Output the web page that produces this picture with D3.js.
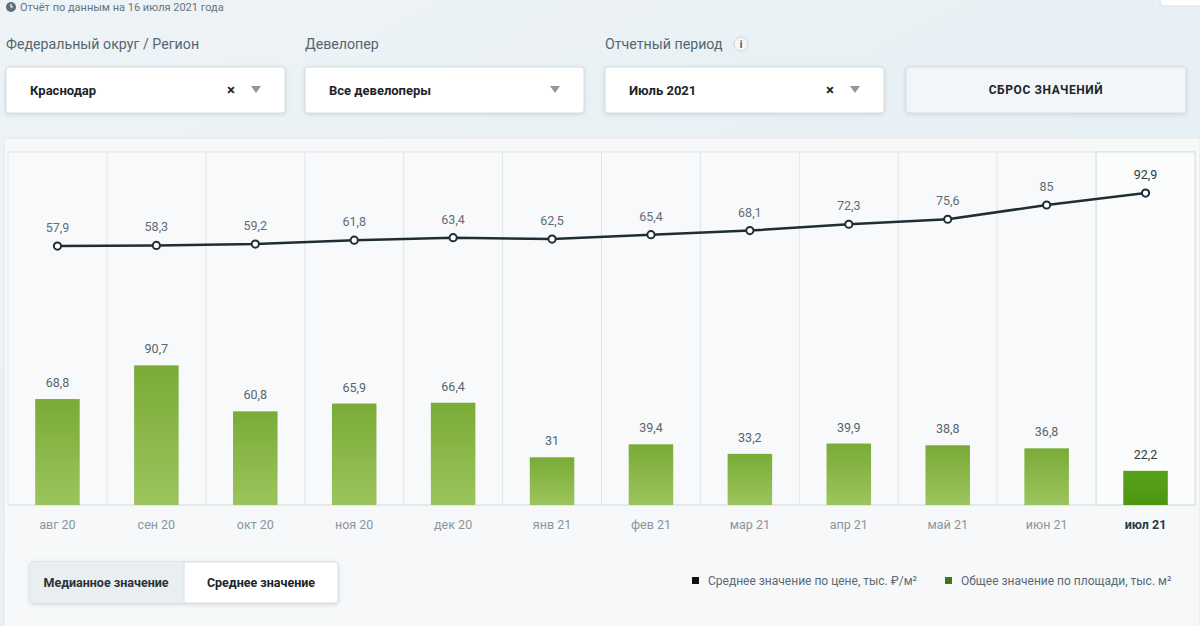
<!DOCTYPE html>
<html><head><meta charset="utf-8">
<script src="https://cdn.jsdelivr.net/npm/d3@7"></script>
<style>
html,body{margin:0;padding:0;width:1200px;height:626px;overflow:hidden;background:#eaf2f6;}
svg{display:block;font-family:Roboto,"Noto Sans",sans-serif;}
</style></head>
<body>
<svg id="c" width="1200" height="626"></svg>
<script>
const categories = ["авг 20","сен 20","окт 20","ноя 20","дек 20","янв 21","фев 21","мар 21","апр 21","май 21","июн 21","июл 21"];
const priceValues = [57.9,58.3,59.2,61.8,63.4,62.5,65.4,68.1,72.3,75.6,85,92.9];
const areaValues = [68.8,90.7,60.8,65.9,66.4,31,39.4,33.2,39.9,38.8,36.8,22.2];
const legendLabels = ["Среднее значение по цене, тыс. ₽/м²","Общее значение по площади, тыс. м²"];

const svg = d3.select("#c");
const defs = svg.append("defs");
const bg = defs.append("linearGradient").attr("id","pagebg").attr("x1",0).attr("y1",0).attr("x2",1).attr("y2",1);
bg.append("stop").attr("offset","0%").attr("stop-color","#eef3f6");
bg.append("stop").attr("offset","100%").attr("stop-color","#e3eef4");
const gb = defs.append("linearGradient").attr("id","barg").attr("x1",0).attr("y1",0).attr("x2",0).attr("y2",1);
gb.append("stop").attr("offset","0%").attr("stop-color","#7aab36");
gb.append("stop").attr("offset","100%").attr("stop-color","#9cc45e");
const gl = defs.append("linearGradient").attr("id","barlast").attr("x1",0).attr("y1",0).attr("x2",0).attr("y2",1);
gl.append("stop").attr("offset","0%").attr("stop-color","#58a21a");
gl.append("stop").attr("offset","100%").attr("stop-color","#4e9612");
const sh = defs.append("filter").attr("id","sh").attr("x","-10%").attr("y","-30%").attr("width","120%").attr("height","160%");
sh.append("feDropShadow").attr("dx",0).attr("dy",1).attr("stdDeviation",2).attr("flood-color","#9fb3c0").attr("flood-opacity",0.45);

svg.append("rect").attr("width",1200).attr("height",626).attr("fill","url(#pagebg)");

// header
svg.append("circle").attr("cx",11).attr("cy",7).attr("r",5).attr("fill","#5f6f7a");
svg.append("path").attr("d","M11 4 V7 H13").attr("stroke","#fff").attr("stroke-width",1.2).attr("fill","none");
svg.append("text").attr("x",20).attr("y",11).attr("font-size",11).attr("fill","#66757f").text("Отчёт по данным на 16 июля 2021 года");
svg.append("rect").attr("x",1160).attr("y",-6).attr("width",50).attr("height",12).attr("rx",3).attr("fill","#fff").attr("stroke","#d6dfe5");

const labels = [["Федеральный округ / Регион",6],["Девелопер",305],["Отчетный период",605]];
labels.forEach(([t,x])=>svg.append("text").attr("x",x).attr("y",49).attr("font-size",14.2).attr("fill","#56666f").text(t));
svg.append("circle").attr("cx",741).attr("cy",44).attr("r",7).attr("fill","#f4f7f9").attr("stroke","#cdd6dc");
svg.append("text").attr("x",741).attr("y",48).attr("text-anchor","middle").attr("font-size",10).attr("font-weight",700).attr("fill","#4a5860").text("i");

const boxes = [[6,"Краснодар",true],[305,"Все девелоперы",false],[605,"Июль 2021",true]];
boxes.forEach(([x,t,clear])=>{
  svg.append("rect").attr("x",x).attr("y",67).attr("width",279).attr("height",46).attr("rx",3).attr("fill","#ffffff").attr("stroke","#d5dee4").attr("filter","url(#sh)");
  svg.append("text").attr("x",x+24).attr("y",95).attr("font-size",13).attr("font-weight",700).attr("fill","#1d2428").text(t);
  if(clear) svg.append("text").attr("x",x+221).attr("y",95).attr("font-size",15).attr("font-weight",700).attr("fill","#1d2428").text("×");
  svg.append("path").attr("d",`M${x+245} 86 h10 l-5 7 z`).attr("fill","#8d999f");
});
svg.append("rect").attr("x",906).attr("y",67).attr("width",280).attr("height",46).attr("rx",3).attr("fill","#f2f6f8").attr("stroke","#d5dee4").attr("filter","url(#sh)");
svg.append("text").attr("x",1046).attr("y",94).attr("text-anchor","middle").attr("font-size",12).attr("font-weight",700).attr("letter-spacing",0.6).attr("fill","#1d2428").text("СБРОС ЗНАЧЕНИЙ");

// chart panel
svg.append("rect").attr("x",4).attr("y",138).attr("width",1196).attr("height",500).attr("fill","#f6f8f9").attr("stroke","#e2e8ec");

const plotTop = 152, baseY = 505;
const x = d3.scaleBand().domain(categories).range([8,1195]).paddingInner(0).paddingOuter(0);
const yBar = d3.scaleLinear().domain([0,100]).range([baseY, baseY-154]);
const yLine = d3.scaleLinear().domain([0,100]).range([333.7, 182.3]);

const g = svg.append("g");
g.append("rect").attr("x",8).attr("y",plotTop).attr("width",1187).attr("height",baseY-plotTop).attr("fill","#f8f9fa").attr("stroke","#e3e6e8");
g.append("rect").attr("x",x(categories[11])).attr("y",plotTop).attr("width",x.bandwidth()).attr("height",baseY-plotTop).attr("fill","#fbfcfc").attr("stroke","#dcdfe1");
g.selectAll("line.div").data(categories.slice(1)).join("line").attr("class","div")
  .attr("x1",d=>x(d)).attr("x2",d=>x(d)).attr("y1",plotTop).attr("y2",baseY)
  .attr("stroke","#e2e5e7").attr("stroke-width",1);
g.append("line").attr("x1",8).attr("x2",1195).attr("y1",baseY).attr("y2",baseY).attr("stroke","#dfe3e5");

// bars
const bw = x.bandwidth()*0.45;
g.selectAll("rect.bar").data(areaValues).join("rect").attr("class","bar")
  .attr("x",(d,i)=>x(categories[i])+x.bandwidth()/2-bw/2)
  .attr("y",d=>yBar(d)).attr("width",bw).attr("height",d=>baseY-yBar(d))
  .attr("fill",(d,i)=>i===11?"url(#barlast)":"url(#barg)");
const fmt = v => String(v).replace(".",",");
g.selectAll("text.bl").data(areaValues).join("text").attr("class","bl")
  .attr("x",(d,i)=>x(categories[i])+x.bandwidth()/2).attr("y",d=>yBar(d)-12)
  .attr("text-anchor","middle").attr("font-size",12.5).attr("fill",(d,i)=>i===11?"#2c3a44":"#56656f").text(fmt);

// line
const line = d3.line().x((d,i)=>x(categories[i])+x.bandwidth()/2).y(d=>yLine(d));
g.append("path").datum(priceValues).attr("d",line).attr("fill","none").attr("stroke","#1f2e35").attr("stroke-width",2.5);
g.selectAll("circle.pt").data(priceValues).join("circle").attr("class","pt")
  .attr("cx",(d,i)=>x(categories[i])+x.bandwidth()/2).attr("cy",d=>yLine(d)).attr("r",3.6)
  .attr("fill","#fff").attr("stroke","#1f2e35").attr("stroke-width",2);
g.selectAll("text.pl").data(priceValues).join("text").attr("class","pl")
  .attr("x",(d,i)=>x(categories[i])+x.bandwidth()/2).attr("y",d=>yLine(d)-14)
  .attr("text-anchor","middle").attr("font-size",12.5).attr("fill",(d,i)=>i===11?"#2c3a44":"#5f6d77").text(fmt);

// x axis
const xAxis = d3.axisBottom(x).tickSize(0).tickPadding(0);
const ax = g.append("g").attr("transform",`translate(0,${baseY+11})`).call(xAxis);
ax.select(".domain").remove();
ax.selectAll("text").attr("font-size",12.5).attr("font-family","Roboto,sans-serif").attr("fill","#8a959c").attr("dy","1em");
ax.selectAll("text").filter(d=>d===categories[11]).attr("fill","#2c3a44").attr("font-weight",700);

// toggle buttons
svg.append("rect").attr("x",30).attr("y",562).attr("width",308).attr("height",41).attr("rx",3).attr("fill","#fff").attr("stroke","#d5dee4").attr("filter","url(#sh)");
svg.append("rect").attr("x",30.5).attr("y",562.5).attr("width",153).attr("height",40).attr("fill","#e9eef1");
svg.append("line").attr("x1",184).attr("x2",184).attr("y1",562).attr("y2",603).attr("stroke","#d2dbe1");
svg.append("text").attr("x",106).attr("y",587).attr("text-anchor","middle").attr("font-size",12.5).attr("font-weight",700).attr("fill","#2b3338").text("Медианное значение");
svg.append("text").attr("x",261).attr("y",587).attr("text-anchor","middle").attr("font-size",12.5).attr("font-weight",700).attr("fill","#1d2428").text("Среднее значение");

// legend
const legendX = [692,945], legendColors = ["#111111","#3d7a12"];
legendLabels.forEach((t,i)=>{
  svg.append("rect").attr("x",legendX[i]).attr("y",577).attr("width",7).attr("height",7).attr("fill",legendColors[i]);
  svg.append("text").attr("x",legendX[i]+16).attr("y",585).attr("font-size",12).attr("fill","#5d6a73").text(t);
});
</script>
</body></html>
